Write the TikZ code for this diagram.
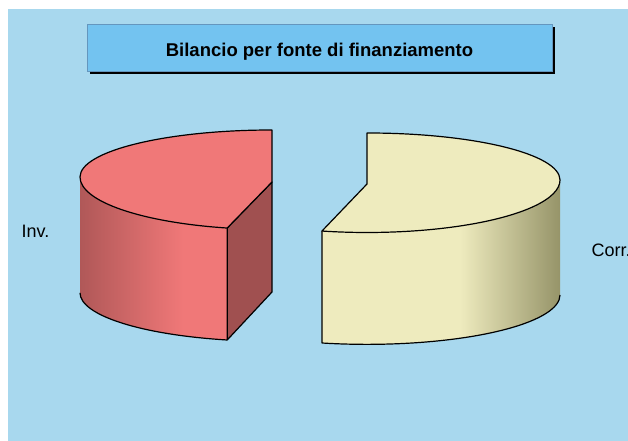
\documentclass[tikz,border=0pt]{standalone}
\usepackage{fontspec}
\setmainfont{Liberation Sans}
\definecolor{bgblue}{RGB}{168,216,238}
\definecolor{titlefill}{RGB}{115,195,240}
\definecolor{titleedge}{RGB}{100,150,190}
\definecolor{rtop}{RGB}{240,120,120}
\definecolor{rcut}{RGB}{160,80,80}
\definecolor{rdark}{RGB}{176,88,88}
\definecolor{ytop}{RGB}{238,235,190}
\definecolor{ydark}{RGB}{150,148,105}
\pgfdeclarehorizontalshading{redside}{100bp}{color(0bp)=(rdark); color(25bp)=(rdark); color(60bp)=(rtop); color(100bp)=(rtop)}
\pgfdeclarehorizontalshading{yside}{100bp}{color(0bp)=(ytop); color(25bp)=(ytop); color(54bp)=(ytop); color(75bp)=(ydark); color(100bp)=(ydark)}
\tikzset{
  edge/.style={draw=black, line width=1.2bp, line join=round},
  lbl/.style={inner sep=0pt, font=\fontsize{18bp}{21bp}\selectfont}
}
\begin{document}
\begin{tikzpicture}[x=1bp,y=1bp]
\useasboundingbox (0,0) rectangle (628,441);
\fill[white] (0,0) rectangle (628,441);
\fill[bgblue] (8,0) rectangle (628,432);
% title box
\fill[black] (90,367) rectangle (555,414);
\draw[titleedge, line width=0.6bp, fill=titlefill] (87,370) rectangle (552,417);
\node[anchor=base, inner sep=0pt, font=\bfseries\fontsize{18.5bp}{22bp}\selectfont] (title) at (319.5,384) {Bilancio per fonte di finanziamento};
% red slice (Inv.)
\shade[shading=redside] (80,264) arc[start angle=180,end angle=256.5,x radius=192,y radius=52.5] -- (227.2,101) arc[start angle=256.5,end angle=180,x radius=192,y radius=48.5] -- cycle;
\draw[edge] (227.2,101) arc[start angle=256.5,end angle=180,x radius=192,y radius=48.5];
\filldraw[edge, fill=rcut] (227.2,213) -- (272,259) -- (272,149) -- (227.2,101) -- cycle;
\filldraw[edge, fill=rtop] (272,311) arc[start angle=90,end angle=180,x radius=192,y radius=47] arc[start angle=180,end angle=256.5,x radius=192,y radius=52.5] -- (272,259) -- cycle;
% yellow slice (Corr.)
\shade[shading=yside] (560,261) arc[start angle=0,end angle=-103.5,x radius=193,y radius=52.5] -- (321.95,98) arc[start angle=-103.5,end angle=0,x radius=193,y radius=49.4] -- cycle;
\draw[edge] (321.95,209.95) -- (321.95,98) arc[start angle=-103.5,end angle=0,x radius=193,y radius=49.4];
\filldraw[edge, fill=ytop] (367,308) arc[start angle=90,end angle=0,x radius=193,y radius=47] arc[start angle=0,end angle=-103.5,x radius=193,y radius=52.5] -- (367,257) -- cycle;
% labels
\node[lbl, anchor=base west] (inv) at (21.5,203) {Inv.};
\node[lbl, anchor=base west] (corr) at (591.5,184) {Corr.};
\end{tikzpicture}
\end{document}
